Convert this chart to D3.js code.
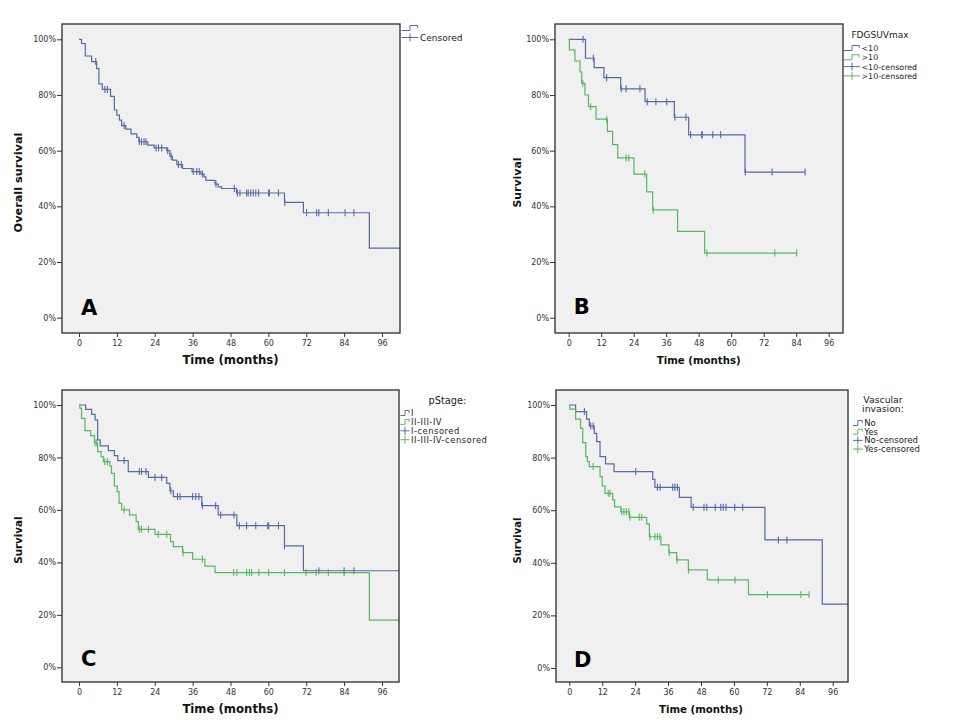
<!DOCTYPE html>
<html><head><meta charset="utf-8">
<script src="https://cdn.jsdelivr.net/npm/d3@7"></script>
<style>body{margin:0;background:#fff;} svg{display:block;}</style>
</head><body>
<script>
// ---------- shared ticks ----------
const monthTicks = [0, 12, 24, 36, 48, 60, 72, 84, 96];
const pctTicks = [0, 0.2, 0.4, 0.6, 0.8, 1.0];

// ---------- Panel A: overall survival ----------
const A_times = [0.8, 2.0, 4.0, 5.6, 6.3, 7.4, 10.0, 11.2, 12.0, 12.8, 13.5, 14.8, 16.5, 18.3, 19.0, 21.8, 23.8, 27.8, 28.8, 29.6, 31.0, 32.8, 35.8, 38.6, 39.6, 40.2, 43.1, 44.1, 45.2, 49.9, 65.1, 71.1, 92.0];
const A_surv  = [0.985, 0.94, 0.92, 0.895, 0.84, 0.82, 0.795, 0.746, 0.728, 0.71, 0.69, 0.677, 0.66, 0.648, 0.632, 0.62, 0.61, 0.60, 0.58, 0.566, 0.55, 0.536, 0.525, 0.516, 0.506, 0.493, 0.48, 0.47, 0.464, 0.448, 0.414, 0.377, 0.25];
const A_censor = [5.3, 8.2, 9.0, 14.3, 19.1, 19.8, 20.6, 21.2, 24.4, 25.2, 26.2, 28.1, 29.2, 31.5, 32.4, 36.2, 37.3, 38.1, 39.1, 43.4, 49.2, 50.2, 51.0, 53.1, 53.6, 54.4, 55.2, 56.0, 56.9, 60.1, 60.3, 63.2, 65.2, 72.1, 75.3, 76.0, 79.0, 84.3, 87.1];
const A_end = 102;

// ---------- Panel B: FDG SUVmax ----------
const B_lo_times = [6.2, 9.4, 13.0, 19.2, 28.2, 39.0, 44.3, 65.1];
const B_lo_surv  = [0.932, 0.898, 0.862, 0.822, 0.776, 0.72, 0.657, 0.523];
const B_lo_censor = [5.3, 9.1, 14.0, 19.4, 21.2, 26.3, 29.0, 32.2, 36.2, 39.2, 43.3, 45.0, 49.1, 49.3, 53.2, 56.1, 65.2, 75.1, 87.3];
const B_lo_end = 87.3;
const B_hi_times = [0.25, 2.3, 4.2, 4.8, 6.0, 7.3, 10.1, 14.3, 16.2, 18.1, 24.1, 28.8, 31.0, 40.2, 50.2];
const B_hi_surv  = [0.962, 0.922, 0.883, 0.842, 0.80, 0.758, 0.713, 0.669, 0.622, 0.574, 0.516, 0.452, 0.387, 0.31, 0.232];
const B_hi_censor = [5.2, 8.1, 14.0, 21.2, 22.2, 28.1, 31.2, 51.0, 76.1, 84.2];
const B_hi_end = 84.2;

// ---------- Panel C: pStage ----------
const C_I_times = [2.1, 4.0, 5.1, 5.9, 6.7, 9.3, 11.2, 12.3, 15.6, 22.0, 27.8, 28.8, 29.9, 38.9, 44.1, 50.0, 65.1, 71.1];
const C_I_surv  = [0.983, 0.964, 0.943, 0.867, 0.844, 0.826, 0.807, 0.788, 0.746, 0.724, 0.701, 0.673, 0.651, 0.616, 0.581, 0.54, 0.463, 0.368];
const C_I_censor = [14.3, 19.1, 19.8, 21.2, 24.1, 26.2, 29.1, 31.2, 32.0, 36.0, 37.0, 38.0, 39.1, 43.3, 44.9, 49.1, 50.8, 53.1, 56.0, 59.8, 60.1, 63.2, 65.1, 76.0, 84.0, 87.1];
const C_I_end = 102;
const C_II_times = [0.3, 0.8, 1.9, 3.7, 4.9, 5.9, 7.0, 7.7, 9.8, 10.3, 11.2, 12.1, 12.7, 13.5, 16.0, 18.1, 18.8, 24.1, 29.0, 29.9, 32.8, 36.0, 39.9, 43.1, 92.0];
const C_II_surv  = [0.987, 0.949, 0.902, 0.883, 0.856, 0.822, 0.803, 0.784, 0.767, 0.739, 0.691, 0.67, 0.625, 0.60, 0.581, 0.555, 0.526, 0.507, 0.479, 0.46, 0.437, 0.412, 0.386, 0.361, 0.18];
const C_II_censor = [5.1, 5.6, 8.2, 9.0, 14.3, 19.1, 19.8, 22.0, 25.1, 27.8, 33.0, 39.1, 49.0, 50.0, 53.1, 54.0, 54.7, 57.0, 60.1, 65.1, 71.9, 75.1, 79.0, 84.0];
const C_II_end = 102;

// ---------- Panel D: vascular invasion ----------
const D_no_times = [2.3, 6.3, 7.3, 9.1, 10.0, 11.2, 13.2, 16.3, 30.4, 31.2, 40.1, 44.4, 71.3, 92.2];
const D_no_surv  = [0.975, 0.946, 0.92, 0.892, 0.861, 0.804, 0.776, 0.747, 0.717, 0.687, 0.649, 0.611, 0.487, 0.243];
const D_no_censor = [5.5, 7.8, 8.7, 24.2, 32.1, 33.1, 37.7, 38.5, 39.4, 45.2, 49.1, 50.1, 53.2, 55.2, 56.1, 57.1, 60.3, 63.2, 76.2, 79.3];
const D_no_end = 102;
const D_yes_times = [0.2, 2.3, 4.1, 4.9, 6.0, 6.6, 7.3, 11.2, 12.0, 13.0, 15.8, 16.5, 18.8, 21.9, 28.2, 29.2, 33.4, 36.3, 39.1, 43.4, 50.3, 65.3];
const D_yes_surv  = [0.984, 0.946, 0.911, 0.857, 0.804, 0.785, 0.766, 0.728, 0.692, 0.664, 0.639, 0.613, 0.594, 0.573, 0.548, 0.499, 0.468, 0.439, 0.411, 0.373, 0.335, 0.279];
const D_yes_censor = [8.7, 14.2, 14.8, 19.1, 19.9, 20.8, 21.7, 22.1, 25.5, 26.4, 29.4, 31.2, 32.1, 33.0, 36.4, 39.3, 43.5, 54.3, 60.4, 72.2, 84.4, 87.4];
const D_yes_end = 87.4;

// ---------- styles ----------
const BLUE = "#5868a8";
const GREEN = "#58b862";
const FONT = "'DejaVu Sans', sans-serif";

const svg = d3.select("body").append("svg").attr("width", 960).attr("height", 720);

function survAt(times, surv, t) {
  let s = 1;
  for (let i = 0; i < times.length; i++) if (times[i] <= t) s = surv[i];
  return s;
}

function drawPanel(p) {
  const x = d3.scaleLinear().domain([0, 96]).range([p.x0, p.x96]);
  const y = d3.scaleLinear().domain([0, 1]).range([p.y0, p.y100]);
  const g = svg.append("g");
  const id = "clip" + p.letter;
  svg.append("clipPath").attr("id", id).append("rect")
    .attr("x", p.box[0]).attr("y", p.box[2]).attr("width", p.box[1] - p.box[0]).attr("height", p.box[3] - p.box[2]);
  g.append("rect").attr("x", p.box[0]).attr("y", p.box[2])
    .attr("width", p.box[1] - p.box[0]).attr("height", p.box[3] - p.box[2])
    .attr("fill", "#f0f0f0");

  const line = d3.line().x(d => x(d[0])).y(d => y(d[1])).curve(d3.curveStepAfter);
  p.series.forEach(s => {
    const pts = [[0, 1]];
    s.times.forEach((t, i) => pts.push([t, s.surv[i]]));
    pts.push([s.end, s.surv[s.surv.length - 1]]);
    g.append("path").attr("d", line(pts)).attr("fill", "none")
      .attr("stroke", s.color).attr("stroke-width", 1.2).attr("clip-path", `url(#${id})`);
    g.append("g").selectAll("line").data(s.censor).join("line")
      .attr("x1", d => x(d)).attr("x2", d => x(d))
      .attr("y1", d => y(survAt(s.times, s.surv, d)) - 3.5)
      .attr("y2", d => y(survAt(s.times, s.surv, d)) + 3.5)
      .attr("stroke", s.color).attr("stroke-width", 1.1);
  });

  // frame
  g.append("rect").attr("x", p.box[0]).attr("y", p.box[2])
    .attr("width", p.box[1] - p.box[0]).attr("height", p.box[3] - p.box[2])
    .attr("fill", "none").attr("stroke", "#3a3a3a").attr("stroke-width", 1.4);

  // axes
  const xAxis = d3.axisBottom(x).tickValues(monthTicks).tickSize(4).tickPadding(3).tickSizeOuter(0);
  const xg = g.append("g").attr("transform", `translate(0,${p.box[3]})`).call(xAxis);
  xg.select(".domain").remove();
  const yAxis = d3.axisLeft(y).tickValues(pctTicks).tickFormat(d3.format(".0%")).tickSize(5).tickPadding(1).tickSizeOuter(0);
  const yg = g.append("g").attr("transform", `translate(${p.box[0]},0)`).call(yAxis);
  yg.select(".domain").remove();
  [xg, yg].forEach(a => {
    a.selectAll("text").attr("font-family", FONT).attr("font-size", 8).attr("fill", "#333");
    a.selectAll("line").attr("stroke", "#333");
  });

  // titles
  g.append("text").attr("x", (x(0) + x(96)) / 2).attr("y", p.box[3] + 30.5)
    .attr("text-anchor", "middle").attr("font-family", FONT).attr("font-weight", "bold")
    .attr("font-size", p.xfs).attr("fill", "#111").text("Time (months)");
  g.append("text").attr("transform", `translate(${p.ytx},${(p.y0 + p.y100) / 2 + 4}) rotate(-90)`)
    .attr("text-anchor", "middle").attr("font-family", FONT).attr("font-weight", "bold")
    .attr("font-size", p.yfs).attr("fill", "#111").text(p.ytitle);
  g.append("text").attr("x", x(0) + p.letterDx).attr("y", y(0) - p.letterDy)
    .attr("font-family", FONT).attr("font-weight", "bold").attr("font-size", 21)
    .attr("fill", "#000").text(p.letter);

  // legend
  const L = p.legend;
  const lg = g.append("g");
  L.title.forEach((t, i) => lg.append("text").attr("x", L.titleX).attr("y", L.titleY + i * 9.5)
    .attr("text-anchor", "middle").attr("font-family", FONT).attr("font-size", L.tfs).attr("fill", "#222").text(t));
  L.items.forEach((it, i) => {
    const yy = L.y0 + i * L.dy;
    const w = L.w;
    if (it.kind === "step") {
      lg.append("path").attr("d", `M${L.x},${yy + 2.5}H${L.x + w * 0.5}V${yy - 2.5}H${L.x + w * 0.95}V${yy}`)
        .attr("fill", "none").attr("stroke", it.color).attr("stroke-width", 1);
    } else {
      lg.append("line").attr("x1", L.x).attr("x2", L.x + w).attr("y1", yy).attr("y2", yy).attr("stroke", it.color);
      lg.append("line").attr("x1", L.x + w / 2).attr("x2", L.x + w / 2).attr("y1", yy - 4).attr("y2", yy + 4).attr("stroke", it.color);
    }
    lg.append("text").attr("x", L.x + w + 1.5).attr("y", yy + 3).attr("font-family", FONT)
      .attr("font-size", L.fs).attr("letter-spacing", L.ls || 0).attr("fill", "#222").text(it.label);
  });
}

drawPanel({
  letter: "A", box: [62, 400, 24, 333], x0: 79, x96: 382, y0: 317.7, y100: 39.3, ytx: 22,
  ytitle: "Overall survival", xfs: 11.7, yfs: 11.3, letterDx: 2, letterDy: 3,
  series: [{ times: A_times, surv: A_surv, censor: A_censor, end: A_end, color: BLUE }],
  legend: { title: [], titleX: 0, titleY: 0, tfs: 9, x: 401.5, y0: 28, dy: 9.5, w: 17, fs: 9,
    items: [{ kind: "step", color: BLUE, label: "" }, { kind: "cross", color: BLUE, label: "Censored" }] }
});
drawPanel({
  letter: "B", box: [555, 843, 24, 333], x0: 568.7, x96: 828.7, y0: 317.7, y100: 39.3, ytx: 521,
  ytitle: "Survival", xfs: 10.2, yfs: 10.9, letterDx: 5, letterDy: 4,
  series: [{ times: B_lo_times, surv: B_lo_surv, censor: B_lo_censor, end: B_lo_end, color: BLUE },
           { times: B_hi_times, surv: B_hi_surv, censor: B_hi_censor, end: B_hi_end, color: GREEN }],
  legend: { title: ["FDGSUVmax"], titleX: 880, titleY: 37.5, tfs: 9, x: 844, y0: 48, dy: 9.3, w: 16, fs: 7.9,
    items: [{ kind: "step", color: BLUE, label: "<10" }, { kind: "step", color: GREEN, label: ">10" },
            { kind: "cross", color: BLUE, label: "<10-censored" }, { kind: "cross", color: GREEN, label: ">10-censored" }] }
});
drawPanel({
  letter: "C", box: [62, 399, 390, 682], x0: 79, x96: 382, y0: 667.3, y100: 405, ytx: 22,
  ytitle: "Survival", xfs: 11.7, yfs: 10.3, letterDx: 2, letterDy: 1,
  series: [{ times: C_I_times, surv: C_I_surv, censor: C_I_censor, end: C_I_end, color: BLUE },
           { times: C_II_times, surv: C_II_surv, censor: C_II_censor, end: C_II_end, color: GREEN }],
  legend: { title: ["pStage:"], titleX: 447.5, titleY: 404, tfs: 9.8, x: 400.5, y0: 413, dy: 8.9, w: 9, fs: 8.4, ls: 0.5,
    items: [{ kind: "step", color: BLUE, label: "I" }, { kind: "step", color: GREEN, label: "II-III-IV" },
            { kind: "cross", color: BLUE, label: "I-censored" }, { kind: "cross", color: GREEN, label: "II-III-IV-censored" }] }
});
drawPanel({
  letter: "D", box: [556, 848, 390, 682], x0: 569.3, x96: 832.7, y0: 668, y100: 405, ytx: 521,
  ytitle: "Survival", xfs: 10.2, yfs: 10, letterDx: 4.7, letterDy: 1,
  series: [{ times: D_no_times, surv: D_no_surv, censor: D_no_censor, end: D_no_end, color: BLUE },
           { times: D_yes_times, surv: D_yes_surv, censor: D_yes_censor, end: D_yes_end, color: GREEN }],
  legend: { title: ["Vascular", "invasion:"], titleX: 883, titleY: 402.5, tfs: 9.3, x: 853, y0: 423, dy: 8.7, w: 9.7, fs: 8.5,
    items: [{ kind: "step", color: BLUE, label: "No" }, { kind: "step", color: GREEN, label: "Yes" },
            { kind: "cross", color: BLUE, label: "No-censored" }, { kind: "cross", color: GREEN, label: "Yes-censored" }] }
});
</script>
</body></html>
